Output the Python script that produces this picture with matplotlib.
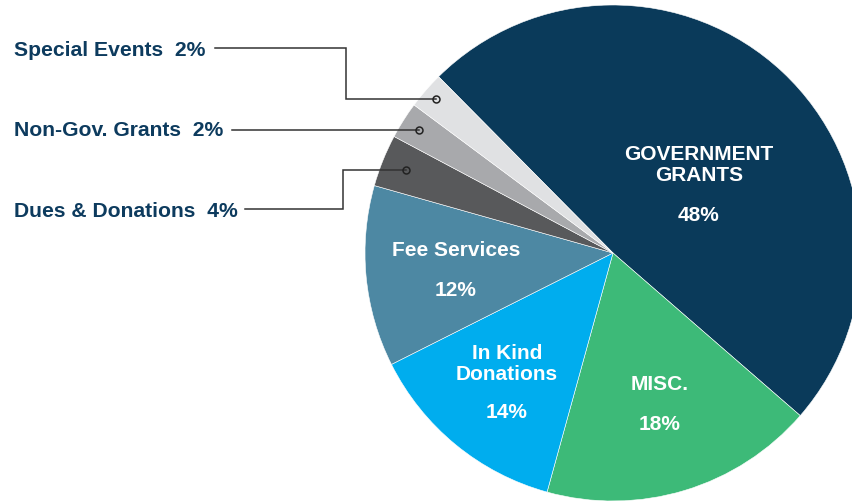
import matplotlib
matplotlib.use("Agg")
import matplotlib.pyplot as plt
import numpy as np

plt.rcParams['font.family'] = ['Liberation Sans', 'DejaVu Sans']

# slices, clockwise from the upper left edge of the big slice
names = ["GOVERNMENT\nGRANTS", "MISC.", "In Kind\nDonations", "Fee Services",
         "Dues & Donations", "Non-Gov. Grants", "Special Events"]
pct_labels = ["48%", "18%", "14%", "12%", "4%", "2%", "2%"]
shares = [48.8, 17.9, 13.3, 11.8, 3.4, 2.4, 2.4]   # drawn share of the circle
colors = ["#0a3a5a", "#3dba78", "#00adee", "#4d88a3", "#58595b", "#a8a9ac", "#e0e1e3"]

navy = "#0d3b5e"
W, H = 853, 504

fig = plt.figure(figsize=(W / 100, H / 100), dpi=100)
ax = fig.add_axes([0, 0, 1, 1])

cx, cy, R = 613, H - 253, 248

wedges, _ = ax.pie(shares, colors=colors, startangle=134.7, counterclock=False,
                   center=(cx, cy), radius=R, frame=True,
                   wedgeprops=dict(edgecolor="white", linewidth=0.4))
ax.set_xlim(0, W)
ax.set_ylim(0, H)
ax.axis("off")

# labels inside the big slices (pixel positions, y from top)
inner = [(699, 165, 215), (660, 385, 425), (507, 364, 413), (456, 251, 290)]
for i, (x, y1, y2) in enumerate(inner):
    ax.text(x, H - y1, names[i], color="white", fontsize=15, fontweight="bold",
            ha="center", va="center", linespacing=1.1)
    ax.text(x, H - y2, pct_labels[i], color="white", fontsize=15, fontweight="bold",
            ha="center", va="center")

# small slices: labels on the left with leader lines
outer = {4: (211, 0.90, 245, 343), 5: (130, 0.925, 232, None), 6: (50, 0.945, 215, 346)}
for i, (ty, frac, x0, xbend) in outer.items():
    w = wedges[i]
    mid = np.deg2rad((w.theta1 + w.theta2) / 2)
    dx = cx + frac * R * np.cos(mid)
    dy = cy + frac * R * np.sin(mid)
    ax.text(14, H - ty, names[i] + "  " + pct_labels[i], color=navy, fontsize=15.2,
            fontweight="bold", ha="left", va="center")
    ly = H - ty + 2
    if xbend is None:
        xs, ys = [x0, dx], [dy, dy]
    else:
        xs, ys = [x0, xbend, xbend, dx], [ly, ly, dy, dy]
    ax.plot(xs, ys, color="#333333", lw=1.1, solid_joinstyle="miter")
    ax.plot(dx, dy, "o", ms=5, mfc="none", mec="#222222", mew=1.1)

fig.savefig("out.png", dpi=100)
